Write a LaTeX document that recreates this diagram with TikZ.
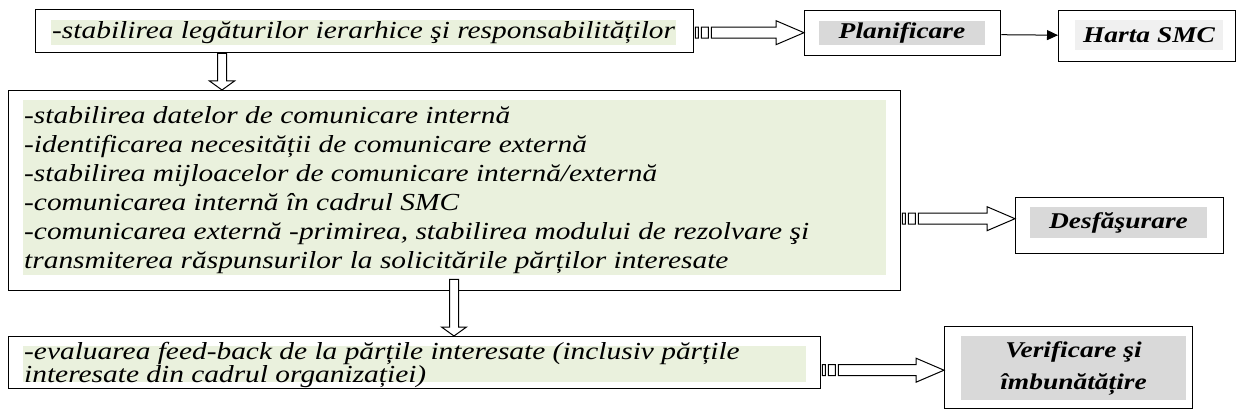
\documentclass[tikz,border=0pt]{standalone}
\usepackage{graphicx}
\usepackage{fontspec}
\setmainfont{Liberation Serif}
\usetikzlibrary{calc,arrows.meta}

\definecolor{paleolive}{HTML}{EAF1DD}
\definecolor{labelgray}{HTML}{D9D9D9}
\definecolor{palegray}{HTML}{F0F0F0}

% the wide type used in the text boxes and in the labels
\newcommand{\widebody}[1]{\scalebox{1.2}[1]{#1}}
\newcommand{\widelabel}[1]{\scalebox{1.22}[1]{#1}}

% hollow "striped" block arrow from point #1 to the x of point #2
\newcommand{\stripedarrow}[2]{%
  \draw[blockline] let \p1=(#1), \p2=(#2) in
    (\x1+1pt,\y1-5.5pt) rectangle (\x1+4pt,\y1+5.5pt)
    (\x1+7pt,\y1-5.5pt) rectangle (\x1+14pt,\y1+5.5pt)
    (\x1+17pt,\y1-5.5pt) -- (\x2-28pt,\y1-5.5pt) -- (\x2-28pt,\y1-12pt)
    -- (\x2,\y1) -- (\x2-28pt,\y1+12pt) -- (\x2-28pt,\y1+5.5pt)
    -- (\x1+17pt,\y1+5.5pt) -- cycle;}
% hollow block arrow pointing down from point #1 to the y of point #2
\newcommand{\hollowdown}[2]{%
  \draw[blockline] let \p1=(#1), \p2=(#2) in
    (\x1-4.5pt,\y1) -- (\x1-4.5pt,\y2+9pt) -- (\x1-12.5pt,\y2+9pt)
    -- (\x1,\y2) -- (\x1+12.5pt,\y2+9pt) -- (\x1+4.5pt,\y2+9pt)
    -- (\x1+4.5pt,\y1) -- cycle;}

\begin{document}
\begin{tikzpicture}[x=1pt,y=-1pt,
  frame/.style={draw=black, line width=1.4pt, fill=white, inner sep=0pt,
    anchor=north west},
  blockline/.style={draw=black, line width=1pt, fill=white},
  body/.style={inner sep=0pt, anchor=base west,
    font=\fontsize{24.5}{29}\selectfont\itshape},
  label/.style={inner sep=0pt,
    font=\fontsize{22.5}{27}\selectfont\bfseries\itshape}]
\useasboundingbox (0,0) rectangle (1238,417);

% outer frames
\node[frame, minimum width=658, minimum height=43] (b1) at (35,9) {};
\node[frame, minimum width=196, minimum height=45] (plan) at (804,10) {};
\node[frame, minimum width=177, minimum height=51] (harta) at (1058,10) {};
\node[frame, minimum width=892, minimum height=200] (b2) at (8,90) {};
\node[frame, minimum width=208, minimum height=56] (dsf) at (1015,197) {};
\node[frame, minimum width=812, minimum height=52] (b3) at (8,336) {};
\node[frame, minimum width=248, minimum height=82] (ver) at (944,326) {};

% shaded text backgrounds
\fill[paleolive] (51,20) rectangle (676,45);
\fill[paleolive] (23,100) rectangle (886,275);
\fill[paleolive] (23,346) rectangle (806,382);
\fill[labelgray] (819,21) rectangle (985,45);
\fill[palegray] (1075,20) rectangle (1223,50);
\fill[labelgray] (1030,207) rectangle (1207,238);
\fill[labelgray] (961,336) rectangle (1186,400);

% texts
\node[body] (t1) at (52,39) {\widebody{-stabilirea legăturilor ierarhice şi responsabilităților}};
\begin{scope}
  \clip (23,100) rectangle (886,275);
  \node[body] (t2a) at (24,124) {\widebody{-stabilirea datelor de comunicare internă}};
  \node[body] (t2b) at (24,152.8) {\widebody{-identificarea necesității de comunicare externă}};
  \node[body] (t2c) at (24,181.6) {\widebody{-stabilirea mijloacelor de comunicare internă/externă}};
  \node[body] (t2d) at (24,210.4) {\widebody{-comunicarea internă în cadrul SMC}};
  \node[body] (t2e) at (24,239.2) {\widebody{-comunicarea externă -primirea, stabilirea modului de rezolvare şi}};
  \node[body] (t2f) at (24,268) {\widebody{transmiterea răspunsurilor la solicitările părților interesate}};
\end{scope}
\node[body] (t3a) at (24,359.5) {\widebody{-evaluarea feed-back de la părțile interesate (inclusiv părțile}};
\node[body] (t3b) at (24,382.5) {\widebody{interesate din cadrul organizației)}};

\node[label] (lp) at (902,33) {\widelabel{Planificare}};
\node[label] (lh) at (1149,35) {\widelabel{Harta SMC}};
\node[label] (ld) at (1118.5,222.5) {\widelabel{Desfăşurare}};
\node[label] (lv1) at (1073.5,352) {\widelabel{Verificare şi}};
\node[label] (lv2) at (1073.5,384) {\widelabel{îmbunătățire}};

% connectors
\stripedarrow{$(b1.east)+(0,1.5)$}{plan.west}
\stripedarrow{$(b2.east)+(0,28)$}{dsf.west}
\stripedarrow{$(b3.east)+(0,7.5)$}{ver.west}
\draw[line width=1pt, -{Triangle[length=11pt,width=10pt]}]
  ($(plan.east)+(0,1.5)$) -- ($(harta.west)+(0,-1)$);
\hollowdown{$(b1.south west)+(187,0)$}{b2.north}
\hollowdown{$(b2.south west)+(446,-12)$}{b3.north}
\end{tikzpicture}
\end{document}
